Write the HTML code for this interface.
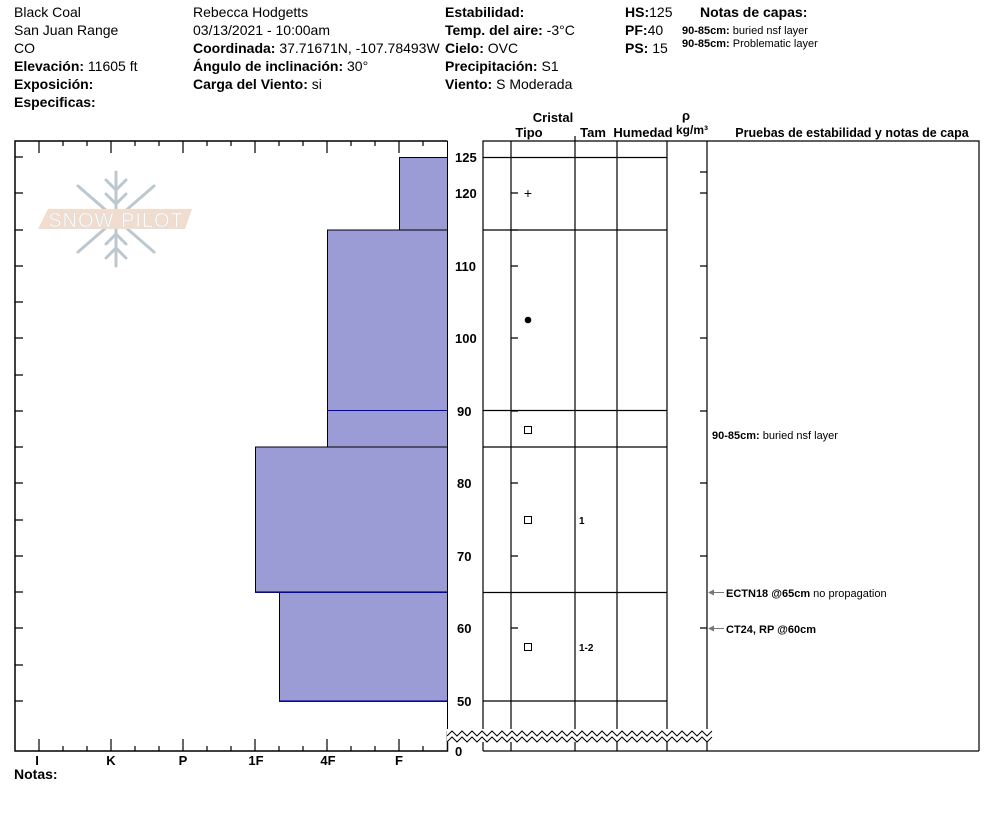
<!DOCTYPE html>
<html><head><meta charset="utf-8"><style>
body{margin:0;background:#fff;}
svg{display:block;font-family:"Liberation Sans",Arial,sans-serif;}
.h{font-size:14px;fill:#000}
.b{font-weight:bold}
</style></head><body>
<svg width="994" height="840" viewBox="0 0 994 840" xmlns="http://www.w3.org/2000/svg">
<g class="h">
<text x="14" y="17">Black Coal</text>
<text x="14" y="35">San Juan Range</text>
<text x="14" y="53">CO</text>
<text x="14" y="71"><tspan class="b">Elevación:</tspan> 11605 ft</text>
<text x="14" y="89" class="b">Exposición:</text>
<text x="14" y="107" class="b">Especificas:</text>
<text x="193" y="17">Rebecca Hodgetts</text>
<text x="193" y="35">03/13/2021 - 10:00am</text>
<text x="193" y="53"><tspan class="b">Coordinada:</tspan> 37.71671N, -107.78493W</text>
<text x="193" y="71"><tspan class="b">Ángulo de inclinación:</tspan> 30°</text>
<text x="193" y="89"><tspan class="b">Carga del Viento:</tspan> si</text>
<text x="445" y="17" class="b">Estabilidad:</text>
<text x="445" y="35"><tspan class="b">Temp. del aire:</tspan> -3°C</text>
<text x="445" y="53"><tspan class="b">Cielo:</tspan> OVC</text>
<text x="445" y="71"><tspan class="b">Precipitación:</tspan> S1</text>
<text x="445" y="89"><tspan class="b">Viento:</tspan>  S Moderada</text>
<text x="625" y="17"><tspan class="b">HS:</tspan>125</text>
<text x="625" y="35"><tspan class="b">PF:</tspan>40</text>
<text x="625" y="53"><tspan class="b">PS:</tspan> 15</text>
<text x="700" y="17" class="b">Notas de capas:</text>
</g>
<text x="682" y="34" font-size="11"><tspan font-weight="bold">90-85cm:</tspan> buried nsf layer</text>
<text x="682" y="47" font-size="11"><tspan font-weight="bold">90-85cm:</tspan> Problematic layer</text>

<!-- logo -->
<g opacity="0.9">
<g stroke="#b5c3cc" stroke-width="3" fill="none" stroke-linecap="round">
<line x1="116" y1="172" x2="116" y2="266"/>
<line x1="78" y1="186" x2="154" y2="252"/>
<line x1="154" y1="186" x2="78" y2="252"/>
<path d="M106 180 L116 190 L126 180 M106 194 L116 204 L126 194 M106 258 L116 248 L126 258 M106 244 L116 234 L126 244"/>
</g>
<polygon points="48,209 192,209 185,229 38,229" fill="#f0d9c8"/>
<text x="116" y="227" font-size="20" text-anchor="middle" fill="#fff" stroke="#d8d8d8" stroke-width="0.6" letter-spacing="1">SNOW PILOT</text>
</g>

<!-- bars -->
<g fill="#9b9bd6" stroke="#000" stroke-width="1">
<rect x="399.5" y="157.5" width="48" height="72.5"/>
<rect x="327.5" y="230" width="120" height="217"/>
<rect x="255.5" y="447" width="192" height="145"/>
<rect x="279.5" y="592" width="168" height="109"/>
</g>
<line x1="327" y1="410.5" x2="447" y2="410.5" stroke="#0000cc"/>
<line x1="255" y1="592.5" x2="447" y2="592.5" stroke="#0000cc"/>
<line x1="279" y1="701.5" x2="447" y2="701.5" stroke="#0000cc"/>

<!-- left frame -->
<g stroke="#000" stroke-width="1.5" fill="none">
<path d="M447.5 141 L15 141 L15 751 L447.5 751 L447.5 731"/>
<line x1="447.5" y1="141" x2="447.5" y2="731" stroke-width="1"/>
</g>
<g stroke="#000" stroke-width="1.2">
<path d="M39 141v12M111 141v12M183 141v12M255 141v12M327 141v12M399 141v12
M63 141v5M87 141v5M135 141v5M159 141v5M207 141v5M231 141v5M279 141v5M303 141v5M351 141v5M375 141v5M423 141v5
M39 751v-12M111 751v-12M183 751v-12M255 751v-12M327 751v-12M399 751v-12
M63 751v-5M87 751v-5M135 751v-5M159 751v-5M207 751v-5M231 751v-5M279 751v-5M303 751v-5M351 751v-5M375 751v-5M423 751v-5
M15 157h8M15 193h8M15 230h8M15 266h8M15 302h8M15 338h8M15 375h8M15 411h8M15 447h8M15 483h8M15 520h8M15 556h8M15 592h8M15 628h8M15 665h8M15 701h8"/>
</g>
<g font-size="13" font-weight="bold" text-anchor="middle">
<text x="37" y="765">I</text><text x="111" y="765">K</text><text x="183" y="765">P</text>
<text x="256" y="765">1F</text><text x="328" y="765">4F</text><text x="399" y="765">F</text>
</g>
<text x="14" y="779" font-size="14" font-weight="bold">Notas:</text>

<!-- depth labels -->
<g font-size="13" font-weight="bold">
<text x="455" y="162">125</text><text x="455" y="198">120</text><text x="455" y="271">110</text>
<text x="455" y="343">100</text><text x="457" y="416">90</text><text x="457" y="488">80</text>
<text x="457" y="561">70</text><text x="457" y="633">60</text><text x="457" y="706">50</text>
<text x="455" y="756">0</text>
</g>

<!-- table -->
<g stroke="#000" stroke-width="1.2" fill="none">
<path d="M483 731 L483 141 L979 141 L979 751 M483 751 L483 741 M483 751 L979 751"/>
<path d="M511 141V731M575 141V731M617 141V731M667 141V731M707 141V731"/>
<path d="M511 751V741M575 751V741M617 751V741M667 751V741M707 751V741"/>
<path d="M483 157.5H667M483 230H667M483 410.5H667M483 447H667M483 592.5H667M483 701H667"/>
<path d="M511 193h7M511 230h7M511 266h7M511 338h7M511 411h7M511 483h7M511 556h7M511 628h7
M707 172h-7M707 193h-7M707 266h-7M707 338h-7M707 411h-7M707 483h-7M707 556h-7M707 628h-7"/>
<path d="M575 141v-5"/>
</g>
<!-- zigzag -->
<rect x="447" y="729" width="262" height="13" fill="#fff"/>
<g stroke="#000" stroke-width="1" fill="none">
<path d="M447 736 l5 -5 l5 5 l5 -5 l5 5 l5 -5 l5 5 l5 -5 l5 5 l5 -5 l5 5 l5 -5 l5 5 l5 -5 l5 5 l5 -5 l5 5 l5 -5 l5 5 l5 -5 l5 5 l5 -5 l5 5 l5 -5 l5 5 l5 -5 l5 5 l5 -5 l5 5 l5 -5 l5 5 l5 -5 l5 5 l5 -5 l5 5 l5 -5 l5 5 l5 -5 l5 5 l5 -5 l5 5 l5 -5 l5 5 l5 -5 l5 5 l5 -5 l5 5 l5 -5 l5 5 l5 -5 l5 5 l5 -5 l5 5 l5 -5"/>
<path d="M447 742 l5 -5 l5 5 l5 -5 l5 5 l5 -5 l5 5 l5 -5 l5 5 l5 -5 l5 5 l5 -5 l5 5 l5 -5 l5 5 l5 -5 l5 5 l5 -5 l5 5 l5 -5 l5 5 l5 -5 l5 5 l5 -5 l5 5 l5 -5 l5 5 l5 -5 l5 5 l5 -5 l5 5 l5 -5 l5 5 l5 -5 l5 5 l5 -5 l5 5 l5 -5 l5 5 l5 -5 l5 5 l5 -5 l5 5 l5 -5 l5 5 l5 -5 l5 5 l5 -5 l5 5 l5 -5 l5 5 l5 -5 l5 5 l5 -5"/>
</g>

<!-- headers -->
<g font-size="13" font-weight="bold">
<text x="553" y="122" text-anchor="middle">Cristal</text>
<text x="529" y="137" text-anchor="middle">Tipo</text>
<text x="593" y="137" text-anchor="middle">Tam</text>
<text x="643" y="137" text-anchor="middle">Humedad</text>
<text x="686" y="120" text-anchor="middle">ρ</text>
<text x="692" y="134" text-anchor="middle" font-size="12">kg/m³</text>
<text x="852" y="137" text-anchor="middle" font-size="12.5">Pruebas de estabilidad y notas de capa</text>
</g>

<!-- symbols -->
<text x="528" y="198" font-size="14" text-anchor="middle">+</text>
<circle cx="528" cy="320" r="3.3" fill="#000"/>
<g fill="none" stroke="#000" stroke-width="1"><rect x="524.5" y="426.5" width="7" height="7"/><rect x="524.5" y="516.5" width="7" height="7"/><rect x="524.5" y="643.5" width="7" height="7"/></g>
<text x="579" y="524" font-size="10" font-weight="bold">1</text>
<text x="579" y="651" font-size="10" font-weight="bold">1-2</text>

<!-- notes -->
<text x="712" y="439" font-size="11"><tspan font-weight="bold">90-85cm:</tspan> buried nsf layer</text>
<g stroke="#777" stroke-width="1"><line x1="709" y1="592.5" x2="724" y2="592.5"/><line x1="709" y1="628.5" x2="724" y2="628.5"/></g>
<path d="M708 592.5l6 -3v6z M708 628.5l6 -3v6z" fill="#777"/>
<text x="726" y="597" font-size="11"><tspan font-weight="bold">ECTN18 @65cm</tspan>  no propagation</text>
<text x="726" y="633" font-size="11" font-weight="bold">CT24, RP @60cm</text>
</svg>
</body></html>
